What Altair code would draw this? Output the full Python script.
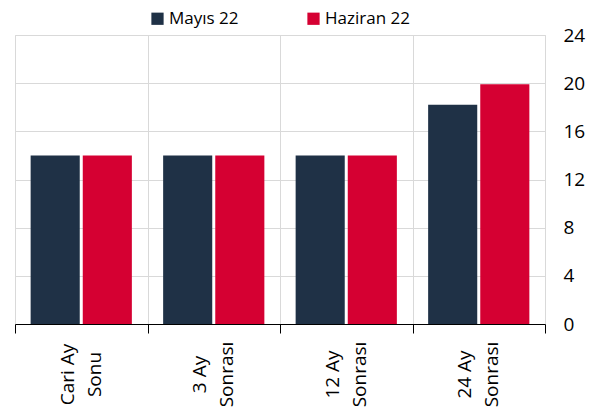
import altair as alt
import pandas as pd

categories = ["Cari Ay\nSonu", "3 Ay\nSonrası", "12 Ay\nSonrası", "24 Ay\nSonrası"]
series = ["Mayıs 22", "Haziran 22"]
mayis = [14.0, 14.0, 14.0, 18.2]
haziran = [14.0, 14.0, 14.0, 19.9]
colors = ["#1f3146", "#d50032"]

rows = []
for c, m, h in zip(categories, mayis, haziran):
    rows.append({"cat": c, "series": series[0], "value": m})
    rows.append({"cat": c, "series": series[1], "value": h})
df = pd.DataFrame(rows)

font = "Open Sans"

chart = alt.Chart(df).mark_bar().encode(
    x=alt.X("cat:N", sort=categories, title=None,
            scale=alt.Scale(paddingInner=0, paddingOuter=0),
            axis=alt.Axis(labelExpr="split(datum.label, '\\n')", labelAngle=-90,
                          labelAlign="center", labelBaseline="middle",
                          labelPadding=41, labelOffset=-14, tickBand="extent", tickSize=9,
                          tickColor="#000000", domainColor="#000000",
                          grid=True, gridColor="#d9d9d9",
                          labelFont=font, labelFontSize=19, labelColor="#000000",
                          labelLineHeight=27)),
    xOffset=alt.XOffset("series:N", sort=series,
                        scale=alt.Scale(paddingInner=0.058, paddingOuter=0.30)),
    y=alt.Y("value:Q", title=None,
            scale=alt.Scale(domain=[0, 24]),
            axis=alt.Axis(orient="right", values=[0, 4, 8, 12, 16, 20, 24],
                          domain=False, ticks=False, labelPadding=18,
                          grid=True, gridColor="#d9d9d9",
                          labelFont=font, labelFontSize=19, labelColor="#000000")),
    color=alt.Color("series:N", sort=series,
                    scale=alt.Scale(domain=series, range=colors),
                    legend=alt.Legend(title=None, orient="none", direction="horizontal",
                                      legendX=134, legendY=-25,
                                      symbolType="square", symbolSize=150,
                                      symbolStrokeWidth=0, columnPadding=66,
                                      labelFont=font, labelFontSize=17,
                                      labelColor="#000000", labelOffset=3)),
).properties(
    width=530, height=289,
    autosize=alt.AutoSizeParams(type="none"),
    padding={"left": 7, "top": 27, "right": 57, "bottom": 85},
).configure_view(stroke=None).configure(background="white")

chart.save("out.html", embed_options={"renderer": "svg", "actions": False})
